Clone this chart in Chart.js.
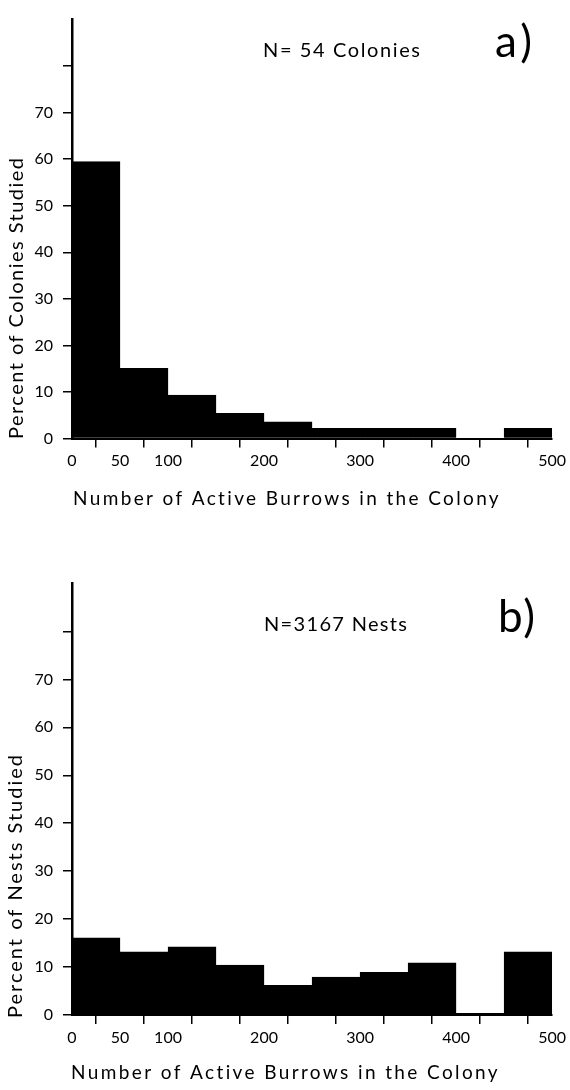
<!DOCTYPE html>
<html>
<head>
<meta charset="utf-8">
<script src="https://cdn.jsdelivr.net/npm/chart.js@4.4.1/dist/chart.umd.min.js"></script>
<style>
  body { margin: 0; background: #fff; }
  canvas { display: block; }
</style>
</head>
<body>
<canvas id="chart-a" width="570" height="540"></canvas>
<canvas id="chart-b" width="570" height="550"></canvas>
<script>
// Data
const binStarts = [0, 50, 100, 150, 200, 250, 300, 350, 400, 450];
const binWidth = 50;
const colonyPercent = [59.5, 15.1, 9.35, 5.4, 3.6, 2.2, 2.2, 2.2, 0, 2.2];
const nestPercent = [16.1, 13.2, 14.2, 10.4, 6.2, 7.9, 8.9, 10.9, 0.35, 13.2];
const xTickLabels = [0, 50, 100, 200, 300, 400, 500];
const yTickLabels = [0, 10, 20, 30, 40, 50, 60, 70];

// Texte am Rand, mit Sperrung auf eine Zielbreite
function textPlugin(items) {
  return {
    id: 'panelText',
    afterDraw(chart) {
      const ctx = chart.ctx;
      items.forEach(t => {
        ctx.save();
        ctx.font = t.font;
        ctx.fillStyle = '#000';
        ctx.textAlign = 'left';
        ctx.textBaseline = 'alphabetic';
        ctx.translate(t.x, t.y);
        if (t.rotate) ctx.rotate(-Math.PI / 2);
        ctx.letterSpacing = '0px';
        const w = ctx.measureText(t.text).width;
        const ls = (t.width - w) / (t.text.length - 1);
        ctx.letterSpacing = ls + 'px';
        ctx.fillText(t.text, 0, 0);
        ctx.restore();
      });
    }
  };
}

function makeChart(id, values, canvasHeight, padTop, plotBottom, padRight, texts) {
  new Chart(document.getElementById(id), {
    type: 'bar',
    data: {
      datasets: [{
        data: binStarts.map((s, i) => ({ x: s + binWidth / 2, y: values[i] })),
        backgroundColor: '#000',
        borderColor: '#000',
        borderWidth: 1,
        barPercentage: 1,
        categoryPercentage: 1
      }]
    },
    options: {
      responsive: false,
      animation: false,
      events: [],
      layout: { padding: { left: 0, right: padRight, top: padTop, bottom: 0 } },
      plugins: { legend: { display: false }, tooltip: { enabled: false } },
      scales: {
        x: {
          type: 'linear',
          min: 0,
          max: 500,
          offset: false,
          grid: { drawOnChartArea: false, tickLength: 9, color: '#000', lineWidth: 1.5 },
          border: { display: true, color: '#000', width: 2 },
          ticks: {
            stepSize: 50,
            autoSkip: false,
            maxRotation: 0,
            padding: 4,
            color: '#000',
            font: { family: 'Lato', size: 16 },
            callback: v => xTickLabels.includes(v) ? String(v) : ''
          },
          afterFit: s => { s.height = canvasHeight - plotBottom; }
        },
        y: {
          min: 0,
          max: 90,
          grid: {
            drawOnChartArea: false,
            tickLength: 9,
            lineWidth: 1.5,
            color: c => (c.tick && c.tick.value === 90) ? 'rgba(0,0,0,0)' : '#000'
          },
          border: { color: '#000', width: 2.5 },
          ticks: {
            stepSize: 10,
            padding: 10,
            color: '#000',
            font: { family: 'Lato', size: 16 },
            callback: v => yTickLabels.includes(v) ? String(v) : ''
          },
          afterFit: s => { s.width = 72; }
        }
      }
    },
    plugins: [textPlugin(texts)]
  });
}

makeChart('chart-a', colonyPercent, 540, 8, 438.5, 16, [
  { text: 'N= 54 Colonies', x: 263, y: 57, font: '20px Lato', width: 157 },
  { text: 'a)', x: 495, y: 57, font: '44px Lato', width: 37 },
  { text: 'Number of Active Burrows in the Colony', x: 73, y: 505, font: '19px Lato', width: 426 },
  { text: 'Percent of Colonies Studied', x: 23, y: 439, font: '20px Lato', width: 281, rotate: true }
]);

makeChart('chart-b', nestPercent, 550, 43.5, 475, 15, [
  { text: 'N=3167 Nests', x: 264, y: 91, font: '20px Lato', width: 143 },
  { text: 'b)', x: 498, y: 92, font: '44px Lato', width: 37 },
  { text: 'Number of Active Burrows in the Colony', x: 71, y: 539, font: '19px Lato', width: 427 },
  { text: 'Percent of Nests Studied', x: 22, y: 478, font: '20px Lato', width: 263, rotate: true }
]);
</script>
</body>
</html>
